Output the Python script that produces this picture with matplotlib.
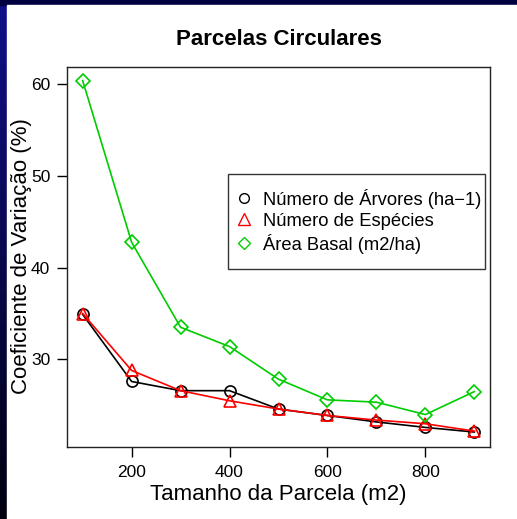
import numpy as np
import matplotlib
matplotlib.use("Agg")
import matplotlib.pyplot as plt

plt.rcParams['font.family'] = ['Liberation Sans', 'DejaVu Sans']

# data
tamanho = [100, 200, 300, 400, 500, 600, 700, 800, 900]
arvores = [34.9, 27.6, 26.6, 26.6, 24.6, 23.9, 23.2, 22.6, 22.1]
especies = [35.0, 28.8, 26.6, 25.5, 24.6, 23.9, 23.4, 23.0, 22.2]
area_basal = [60.35, 42.75, 33.5, 31.4, 27.85, 25.6, 25.35, 24.0, 26.5]

labels = ["Número de Árvores (ha\u22121)", "Número de Espécies", "Área Basal (m2/ha)"]
xticks = [200, 400, 600, 800]
yticks = [30, 40, 50, 60]

W, H = 517, 519
fig = plt.figure(figsize=(W / 100, H / 100), dpi=100)

# slide background: dark blue band on left and top
bg = fig.add_axes([0, 0, 1, 1], zorder=-10)
grad = np.linspace(0, 1, 256).reshape(-1, 1)
cmap = matplotlib.colors.LinearSegmentedColormap.from_list("bl", ["#10108a", "#000010"])
bg.imshow(grad, aspect='auto', cmap=cmap, extent=[0, W, H, 0])
bg.add_patch(plt.Rectangle((0, 0), W, 5, color='#000040'))
bg.add_patch(plt.Rectangle((7, 5), W - 7, H - 5, color='white'))
bg.set_xlim(0, W)
bg.set_ylim(H, 0)
bg.axis('off')

ax = fig.add_axes([67 / W, 1 - 447 / H, 423 / W, 380 / H])
ax.set_facecolor('none')

mk = dict(markerfacecolor='none', markeredgewidth=1.2, linewidth=1.2)
ax.plot(tamanho, arvores, color='black', marker='o', markersize=8, **mk)
ax.plot(tamanho, especies, color='#ff0000', marker='^', markersize=9, **mk)
ax.plot(tamanho, area_basal, color='#00cd00', marker='D', markersize=7.5, **mk)

ax.set_xlim(68, 932)
ax.set_ylim(20.47, 61.83)
ax.set_xticks(xticks)
ax.set_yticks(yticks)
ax.tick_params(direction='out', length=7, width=1, labelsize=12.5, pad=5)
ax.tick_params(axis='x', pad=6)
for s in ax.spines.values():
    s.set_linewidth(1)
    s.set_color('#222222')

fig.text(278.5 / W, 1 - 45 / H, "Parcelas Circulares", fontsize=16,
         fontweight='bold', ha='center', va='baseline')
fig.text(278.5 / W, 1 - 500 / H, "Tamanho da Parcela (m2)", fontsize=16,
         ha='center', va='baseline')
fig.text(27 / W, 1 - 256.5 / H, "Coeficiente de Variação (%)", fontsize=16,
         ha='center', va='baseline', rotation=90, rotation_mode='anchor')

h1 = plt.Line2D([], [], color='black', marker='o', linestyle='none',
                markerfacecolor='none', markersize=7)
h2 = plt.Line2D([], [], color='#ff0000', marker='^', linestyle='none',
                markerfacecolor='none', markersize=8.5)
h3 = plt.Line2D([], [], color='#00cd00', marker='D', linestyle='none',
                markerfacecolor='none', markersize=6.5)
leg = ax.legend([h1, h2, h3], labels, loc='upper left',
                bbox_to_anchor=(0.3806, 0.4816, 0.607, 0.2364), mode='expand',
                fontsize=13.2, frameon=True, fancybox=False, borderpad=0.8,
                labelspacing=0.22, handletextpad=0.92, handlelength=0.2,
                borderaxespad=0)
leg.get_frame().set_edgecolor('black')
leg.get_frame().set_linewidth(1)

fig.savefig("out.png", dpi=100)
